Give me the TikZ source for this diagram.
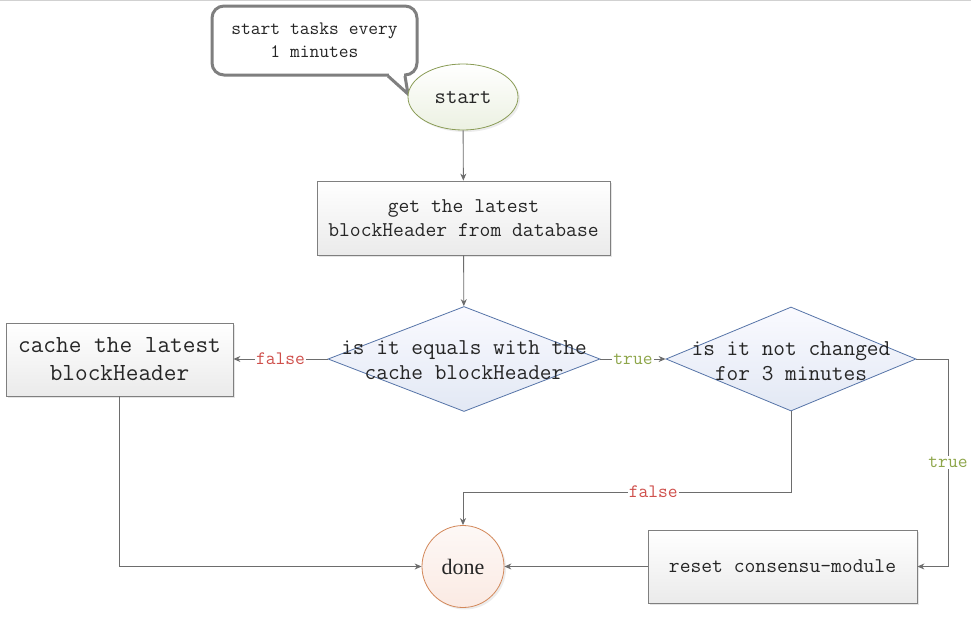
\documentclass[tikz,border=0pt]{standalone}
\usepackage{fontspec}
\setmainfont{Liberation Serif}
\usetikzlibrary{arrows.meta,shapes.geometric,shadows,calc}
\definecolor{linegray}{HTML}{6D6D6D}
\definecolor{boxborder}{HTML}{7F7F7F}
\definecolor{diaborder}{HTML}{5674A8}
\definecolor{startborder}{HTML}{8A9C56}
\definecolor{doneborder}{HTML}{D3885A}
\definecolor{falsecol}{HTML}{CF4F4B}
\definecolor{truecol}{HTML}{8EA64A}
\definecolor{txtcol}{HTML}{262626}
\tikzset{
  arr/.style={draw=linegray, line width=0.9pt, -{Stealth[length=7pt,width=6pt]}},
  boxnode/.style={draw=boxborder, line width=0.8pt, top color=white, bottom color=black!8,
     drop shadow={opacity=0.2, shadow xshift=2pt, shadow yshift=-2pt},
     inner sep=0pt, align=center, text=txtcol, font=\ttfamily},
  dianode/.style={diamond, draw=diaborder, line width=0.8pt, top color=blue!2, bottom color={rgb,255:red,226;green,232;blue,244},
     inner sep=0pt},
  diatext/.style={align=center, text=txtcol, font=\ttfamily\fontsize{22.7}{25}\selectfont, inner sep=0pt},
  lab/.style={fill=white, inner sep=1pt, font=\ttfamily\fontsize{19}{19}\selectfont},
}
\begin{document}
\begin{tikzpicture}[x=1pt,y=-1pt]
\useasboundingbox (0,0) rectangle (971,632);
\fill[white] (0,0) rectangle (971,632);
\draw[black!18, line width=1pt] (0,0.5) -- (971,0.5);

% callout
\node[draw=boxborder, line width=3pt, fill=white, rounded corners=12pt,
      minimum width=205pt, minimum height=69pt, align=center, text=txtcol,
      font=\ttfamily\fontsize{19}{23}\selectfont] (callout) at (314.5,40.5)
      {start tasks every\\1 minutes};
\fill[white] (389,73) rectangle (404,79);
\draw[boxborder, line width=3pt, line join=miter] (388,76) -- (408,94) -- (405,76);

% start
\node[ellipse, draw=startborder, line width=0.8pt, top color=white, bottom color={rgb,255:red,236;green,241;blue,226},
      minimum width=110pt, minimum height=66pt, inner sep=0pt, text=txtcol,
      font=\ttfamily\fontsize{22}{24}\selectfont,
      drop shadow={opacity=0.15, shadow xshift=2pt, shadow yshift=-2pt}] (start) at (463,97) {start};

% get box
\node[boxnode, minimum width=293pt, minimum height=74pt, font=\ttfamily\fontsize{21}{24}\selectfont] (get) at (463.5,218) {get the latest\\blockHeader from database};

% diamond 1
\node[dianode, minimum width=272pt, minimum height=105pt] (d1) at (464,359) {};
\node[diatext] (d1t) at (464,360) {is it equals with the\\cache blockHeader};

% cache box
\node[boxnode, minimum width=227pt, minimum height=73pt, font=\ttfamily\fontsize{24.6}{28}\selectfont] (cache) at (119.5,359.5) {cache the latest\\blockHeader};

% diamond 2
\node[dianode, minimum width=250pt, minimum height=104pt] (d2) at (791,359) {};
\node[diatext] (d2t) at (791,361) {is it not changed\\for 3 minutes};

% reset box
\node[boxnode, minimum width=269pt, minimum height=73pt, font=\ttfamily\fontsize{21}{22}\selectfont] (reset) at (782.5,566.5) {reset consensu-module};

% done
\node[circle, draw=doneborder, line width=0.8pt, top color={rgb,255:red,253;green,248;blue,246}, bottom color={rgb,255:red,251;green,234;blue,227},
      minimum size=82pt, inner sep=0pt, text=txtcol, font=\fontsize{22}{24}\selectfont,
      drop shadow={opacity=0.15, shadow xshift=2pt, shadow yshift=-2pt}] (done) at (463,566.5) {done};

% connectors
\draw[arr] (start) -- (get);
\draw[arr] (get) -- (d1);
\draw[arr] (d1.west) -- node[lab, text=falsecol] {false} (d1.west -| cache.east);
\draw[arr] (d1.east) -- node[lab, text=truecol] {true} (d2.west);
\coordinate (f2) at (791,492);
\draw[arr] (d2.south) -- (f2) -- node[lab, text=falsecol, pos=0.42] {false} (f2 -| done.north) -- (done.north);
\coordinate (t2) at (948,359);
\draw[arr] (d2.east) -- (t2) -- node[lab, text=truecol, pos=0.5] {true} (t2 |- reset.east) -- (reset.east);
\draw[arr] (reset.west) -- (done.east);
\draw[arr] (cache.south) |- (done.west);
\end{tikzpicture}
\end{document}
